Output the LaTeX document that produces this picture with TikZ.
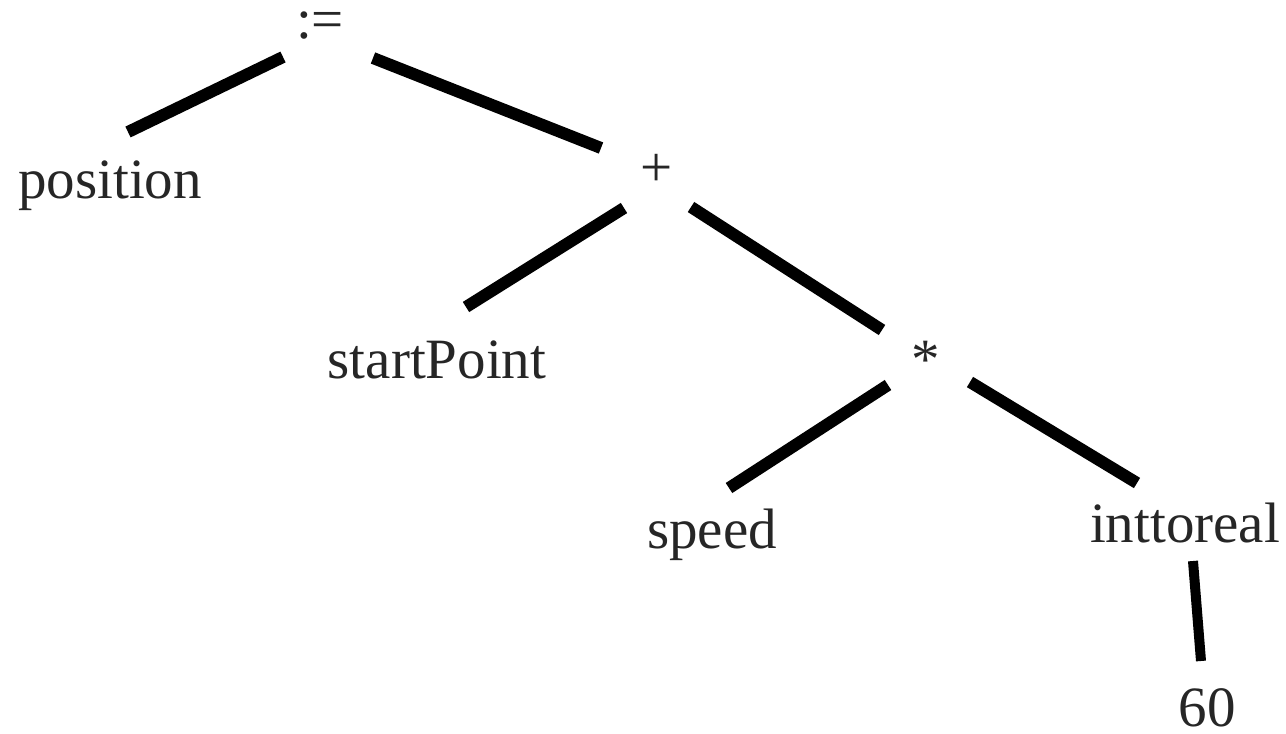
\documentclass[tikz,border=0pt]{standalone}
\usepackage{fontspec}
\setmainfont{Liberation Serif}
\begin{document}
\begin{tikzpicture}[x=1pt,y=-1pt,
  lbl/.style={inner sep=0pt,anchor=base,text=black!85,font=\fontsize{57}{68}\selectfont},
  edge/.style={line width=12pt,black}]
\useasboundingbox (0,0) rectangle (1286,734);
\node[lbl] (assign) at (320,38) {:=};
\node[lbl] (position) at (110,198) {position};
\node[lbl] (plus) at (657,186) {+};
\node[lbl] (start) at (437,378) {startPoint};
\node[lbl] (times) at (926,378) {*};
\node[lbl] (speed) at (712,548) {speed};
\node[lbl] (inttoreal) at (1185,542) {inttoreal};
\node[lbl] (sixty) at (1207,726) {60};
% connector end points
\coordinate (assign-l) at (283,57);  \coordinate (position-t) at (128,132);
\coordinate (assign-r) at (373,58);  \coordinate (plus-t) at (601,148);
\coordinate (plus-l) at (624,208);   \coordinate (start-t) at (466,307);
\coordinate (plus-r) at (691,207);   \coordinate (times-t) at (882,330);
\coordinate (times-l) at (888,385);  \coordinate (speed-t) at (729,488);
\coordinate (times-r) at (970,382);  \coordinate (inttoreal-t) at (1137,483);
\coordinate (inttoreal-b) at (1193,561); \coordinate (sixty-t) at (1201,661);
\draw[edge] (assign-l) -- (position-t);
\draw[edge] (assign-r) -- (plus-t);
\draw[edge] (plus-l) -- (start-t);
\draw[edge] (plus-r) -- (times-t);
\draw[edge] (times-l) -- (speed-t);
\draw[edge] (times-r) -- (inttoreal-t);
\draw[edge,line width=10pt] (inttoreal-b) -- (sixty-t);
\end{tikzpicture}
\end{document}
